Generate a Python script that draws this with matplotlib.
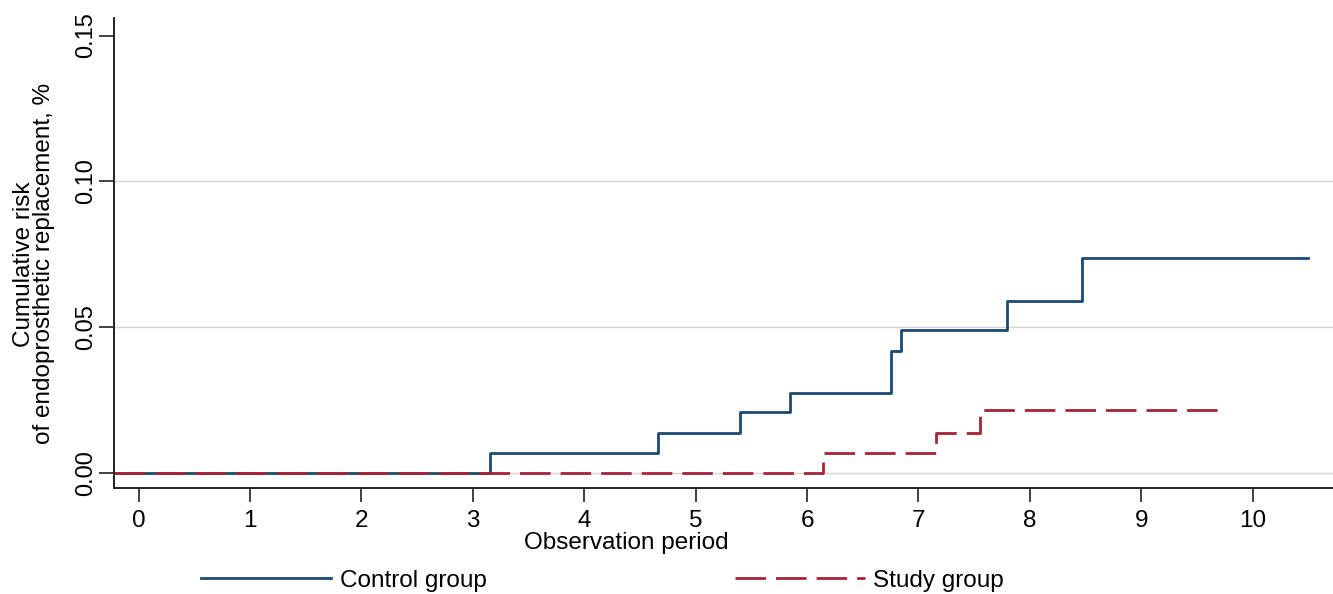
import matplotlib
matplotlib.use("Agg")
import matplotlib.pyplot as plt
from matplotlib import font_manager

# ---- data ----
control_times = [-0.22, 3.15, 4.66, 5.40, 5.85, 6.75, 6.84, 7.79, 8.47, 10.50]
control_risk  = [0.000, 0.007, 0.014, 0.021, 0.0275, 0.042, 0.049, 0.059, 0.0737, 0.0737]
study_times   = [-0.22, 6.14, 7.16, 7.55, 9.73]
study_risk    = [0.000, 0.007, 0.014, 0.0218, 0.0218]

x_ticks = [0, 1, 2, 3, 4, 5, 6, 7, 8, 9, 10]
y_ticks = [0.00, 0.05, 0.10, 0.15]
y_tick_labels = ["0.00", "0.05", "0.10", "0.15"]
grid_levels = [0.00, 0.05, 0.10]

legend_labels = ["Control group", "Study group"]
x_label = "Observation period"
y_label = "Cumulative risk\nof endoprosthetic replacement, %"

# ---- font ----
names = {f.name for f in font_manager.fontManager.ttflist}
fam = "Liberation Sans Narrow" if "Liberation Sans Narrow" in names else "Liberation Sans"
plt.rcParams["font.family"] = [fam, "DejaVu Sans"]
plt.rcParams["font.size"] = 17

blue = "#1c4a72"
red = "#a52535"
axis_col = "#222222"

fig = plt.figure(figsize=(13.33, 5.94), dpi=100)
ax = fig.add_axes([114/1333, 1-488/594, 1-114/1333, (488-18)/594])

for g in grid_levels:
    ax.axhline(g, color="#d4d4d4", lw=1.0, zorder=0)

ax.step(control_times, control_risk, where="post", color=blue, lw=2.0,
        label=legend_labels[0], zorder=2)
ax.step(study_times, study_risk, where="post", color=red, lw=2.0,
        dashes=(11, 3.6), label=legend_labels[1], zorder=3)

ax.set_xlim(-0.22, 10.72)
ax.set_ylim(-0.005, 0.156)
ax.set_xticks(x_ticks)
ax.set_yticks(y_ticks)
ax.set_yticklabels(y_tick_labels, rotation=90, va="center")
ax.tick_params(axis="y", length=11, width=1.2, color=axis_col, pad=1, labelsize=17)
ax.tick_params(axis="x", length=10, width=1.2, color=axis_col, pad=6, labelsize=17.5)

for s in ["top", "right"]:
    ax.spines[s].set_visible(False)
for s in ["left", "bottom"]:
    ax.spines[s].set_color(axis_col)
    ax.spines[s].set_linewidth(1.4)

ax.set_xlabel(x_label, fontsize=17.5, labelpad=1)
ax.xaxis.set_label_coords((626-114)/1219, -0.094)
ax.xaxis.label.set_va("top")
ax.set_ylabel(y_label, fontsize=17.5, linespacing=0.9)
ax.yaxis.set_label_coords(-0.048, 0.477)

handles, labels = ax.get_legend_handles_labels()
leg = fig.legend(handles, labels, loc="center", bbox_to_anchor=(0.452, 0.022),
                 ncol=2, frameon=False, handlelength=5.35, handletextpad=0.35,
                 columnspacing=10.2, fontsize=17.5)

fig.savefig("out.png", dpi=100)
